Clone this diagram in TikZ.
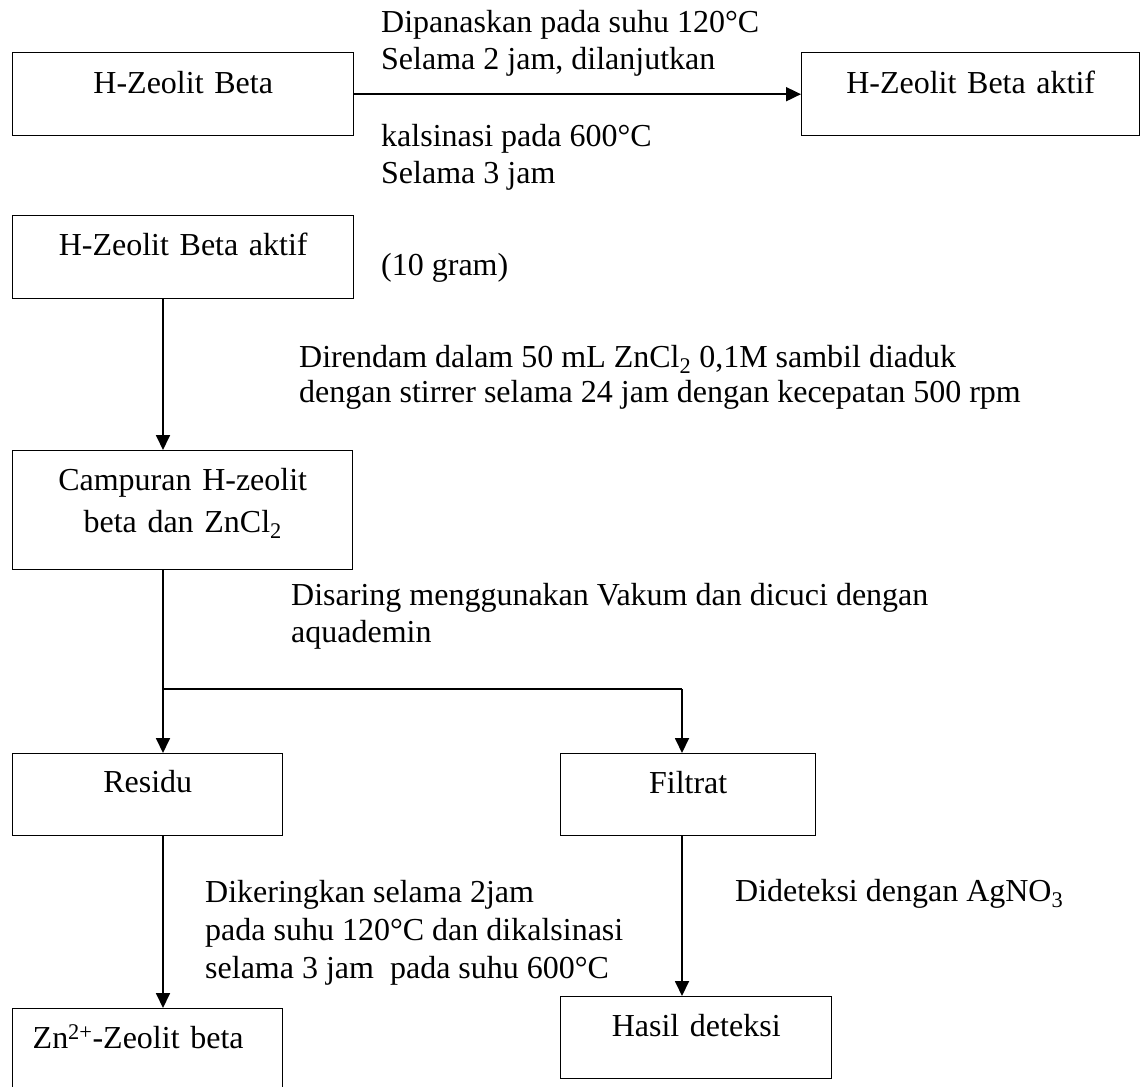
\documentclass[tikz,border=0pt]{standalone}
\usepackage{fontspec}
\setmainfont{Liberation Serif}
\usetikzlibrary{arrows.meta}
\tikzset{
  fnt/.style={font=\fontsize{32}{37}\selectfont},
  proc/.style={draw, line width=1.4pt, anchor=north west, inner sep=0pt, align=center, fnt},
  txt/.style={anchor=base west, inner sep=0pt, fnt},
  arr/.style={line width=1.8pt, -{Triangle[length=15pt,width=14pt]}},
  thinline/.style={line width=1.1pt}
}
\begin{document}
\begin{tikzpicture}[x=1pt,y=-1pt]
\useasboundingbox (0,0) rectangle (1142,1086);
% boxes
\node[proc, text width=341pt, text height=41pt, text depth=42pt] (b1) at (12,52) {H-Zeolit Beta};
\node[proc, text width=338pt, text height=41pt, text depth=42pt] (b2) at (801,52) {H-Zeolit Beta aktif};
\node[proc, text width=341pt, text height=40pt, text depth=43pt] (b3) at (12,215) {H-Zeolit Beta aktif};
\node[proc, text width=340pt, text height=40pt, text depth=79pt] (b4) at (12,450) {Campuran H-zeolit\\[5pt]beta dan ZnCl\textsubscript{2}};
\node[proc, text width=270pt, text height=39pt, text depth=43pt] (b5) at (12,753) {Residu};
\node[proc, text width=255pt, text height=40pt, text depth=42pt] (b6) at (560,753) {Filtrat};
\node[proc, align=left, text width=270pt, text height=40pt, text depth=42pt] (b7) at (12,1008) {\hspace*{20pt}Zn\textsuperscript{2+}-Zeolit beta};
\node[proc, text width=271pt, text height=40pt, text depth=42pt] (b8) at (560,996) {Hasil deteksi};
% labels
\node[txt] (t1) at (381,33) {Dipanaskan pada suhu 120°C};
\node[txt] (t2) at (381,70) {Selama 2 jam, dilanjutkan};
\node[txt] (t3) at (381,147) {kalsinasi pada 600°C};
\node[txt] (t4) at (381,183) {Selama 3 jam};
\node[txt] (t5) at (381,275) {(10 gram)};
\node[txt] (t6) at (299,367) {Direndam dalam 50 mL ZnCl\textsubscript{2} 0,1M sambil diaduk};
\node[txt] (t7) at (299,402) {dengan stirrer selama 24 jam dengan kecepatan 500 rpm};
\node[txt] (t8) at (291,605) {Disaring menggunakan Vakum dan dicuci dengan};
\node[txt] (t9) at (291,642) {aquademin};
\node[txt] (t10) at (205,902) {Dikeringkan selama 2jam};
\node[txt] (t11) at (205,940) {pada suhu 120°C dan dikalsinasi};
\node[txt] (t12) at (205,978) {selama 3 jam\ \ pada suhu 600°C};
\node[txt] (t13) at (735,901) {Dideteksi dengan AgNO\textsubscript{3}};
% connectors
\coordinate (cl) at (163,689);
\coordinate (cr) at (682,689);
\draw[arr] (b1.east) -- (b2.west);
\draw[arr] (cl |- b3.south) -- (cl |- b4.north);
\draw[thinline] (cl |- b4.south) -- (cl) -- (cr);
\draw[arr] (cl) -- (cl |- b5.north);
\draw[arr] (cr) -- (cr |- b6.north);
\draw[arr] (cl |- b5.south) -- (cl |- b7.north);
\draw[arr] (cr |- b6.south) -- (cr |- b8.north);
\end{tikzpicture}
\end{document}
